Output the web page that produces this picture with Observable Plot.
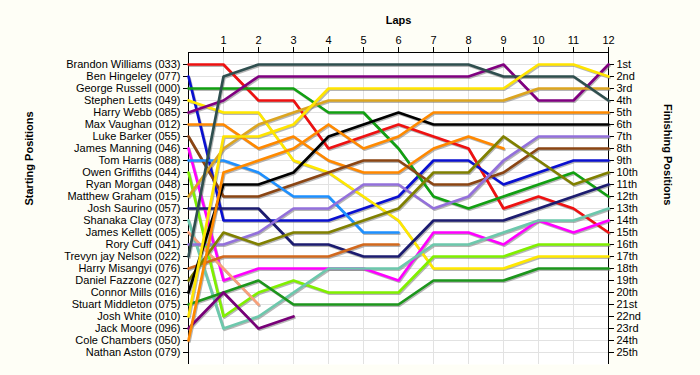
<!DOCTYPE html>
<html><head><meta charset="utf-8">
<script src="https://cdn.jsdelivr.net/npm/d3@7"></script>
<script src="https://cdn.jsdelivr.net/npm/@observablehq/plot@0.6"></script>
<style>
html,body{margin:0;padding:0;background:#fefef6;}
#chart svg{display:block;}
</style>
</head><body><div id="chart"></div>
<script>
// ---- data ----
const lapTicks = [1,2,3,4,5,6,7,8,9,10,11,12];
const startNames = [
  "Brandon Williams (033)","Ben Hingeley (077)","George Russell (000)","Stephen Letts (049)",
  "Harry Webb (085)","Max Vaughan (012)","Luke Barker (055)","James Manning (046)",
  "Tom Harris (088)","Owen Griffiths (044)","Ryan Morgan (048)","Matthew Graham (015)",
  "Josh Saurino (057)","Shanaka Clay (073)","James Kellett (005)","Rory Cuff (041)",
  "Trevyn jay Nelson (022)","Harry Misangyi (076)","Daniel Fazzone (027)","Connor Mills (016)",
  "Stuart Middleton (075)","Josh White (010)","Jack Moore (096)","Cole Chambers (050)",
  "Nathan Aston (079)"
];
const finishLabels = ["1st","2nd","3rd","4th","5th","6th","7th","8th","9th","10th","11th","12th",
  "13th","14th","15th","16th","17th","18th","19th","20th","21st","22nd","23rd","24th","25th"];

// position per lap (index = lap 0..12)
const brandonWilliams = [1,1,4,4,8,7,6,7,8,13,12,13,15];
const benHingeley     = [2,14,14,14,14,13,12,9,9,11,10,9,9];
const georgeRussell   = [3,3,3,3,5,5,8,12,13,12,11,10,12];
const stephenLetts    = [4,5,5,9,10,12,14,18,18,18,17,17,17];
const harryWebb       = [5,4,2,2,2,2,2,2,2,1,4,4,1];
const maxVaughan      = [6,6,8,7,9,10,10,8,7,8];
const lukeBarker      = [7,12,12,11,10,9,9,11,11,10,8,8,8];
const jamesManning    = [8,19,18,18,18,18,19,15,15,16,14,15,14];
const tomHarris       = [9,9,10,12,12,15,15];
const owenGriffiths   = [10,22,20,19,20,20,20,17,17,17,16,16,16];
const matthewGraham   = [12,8,6,5,4,4,4,4,4,4,3,3,3];
const joshSaurino     = [13,13,13,16,16,17,17,14,14,14,13,12,11];
const shanakaClay     = [14,23,22,20,18,18,18,16,16,15,14,14,13];
const jamesKellett    = [15,18,21];
const roryCuff        = [16,16,15,13,13,11,11,13,12,9,7,7,7];
const trevynJayNelson = [17,2,1,1,1,1,1,1,1,2,2,2,4];
const harryMisangyi   = [18,17,17,17,17,16,16];
const danielFazzone   = [19,15,16,15,15,14,13,10,10,7,9,11,10];
const connorMills     = [20,11,11,10,7,6,5,6,6,6,6,6,6];
const stuartMiddleton = [21,20,19,21,21,21,21,19,19,19,18,18,18];
const joshWhite       = [22,7,7,6,3,3,3,3,3,3,1,1,2];
const jackMoore       = [23,20,23,22];
const coleChambers    = [24,10,9,8,6,8,7,5,5,5,5,5,5];

const driverNames = ["Brandon Williams (033)","Ben Hingeley (077)","George Russell (000)","Stephen Letts (049)",
  "Harry Webb (085)","Max Vaughan (012)","Luke Barker (055)","James Manning (046)","Tom Harris (088)",
  "Owen Griffiths (044)","Matthew Graham (015)","Josh Saurino (057)","Shanaka Clay (073)","James Kellett (005)",
  "Rory Cuff (041)","Trevyn jay Nelson (022)","Harry Misangyi (076)","Daniel Fazzone (027)","Connor Mills (016)",
  "Stuart Middleton (075)","Josh White (010)","Jack Moore (096)","Cole Chambers (050)"];
const driverPositions = [brandonWilliams,benHingeley,georgeRussell,stephenLetts,harryWebb,maxVaughan,
  lukeBarker,jamesManning,tomHarris,owenGriffiths,matthewGraham,joshSaurino,shanakaClay,jamesKellett,
  roryCuff,trevynJayNelson,harryMisangyi,danielFazzone,connorMills,stuartMiddleton,joshWhite,jackMoore,coleChambers];
const driverColors = ["#ee1111","#0a10d0","#12a012","#ffe800","#800080","#ff8800","#8b4513","#ff00ff",
  "#1e90ff","#80f000","#dca520","#1c1c70","#6cc8ac","#f8a07a","#9370db","#2f4f4f","#d2691e",
  "#808000","#000000","#1c961c","#ffe400","#780078","#ff8a00"];

// ---- build table ----
const rows = driverNames.flatMap((name, i) =>
  driverPositions[i].map((pos, lap) => ({name, lap, pos, color: driverColors[i]})));

const chart = Plot.plot({
  width: 700,
  height: 375,
  marginLeft: 188,
  marginRight: 92,
  marginTop: 52,
  marginBottom: 11,
  style: {background: "#fefef6", fontFamily: "'Liberation Sans', Arial, sans-serif", fontSize: "11px", color: "#000"},
  x: {domain: [0, 12]},
  y: {domain: [0, 26], reverse: true},
  color: {type: "identity"},
  marks: [
    Plot.frame({fill: "white", stroke: "none"}),
    Plot.ruleX(d3.range(1, 12), {stroke: "#e2e2e2"}),
    Plot.ruleY(d3.range(1, 26), {stroke: "#e2e2e2"}),
    Plot.axisX({anchor: "top", ticks: lapTicks, tickFormat: d => String(d), tickSize: 6, tickPadding: 3, label: null, fontSize: 11}),
    Plot.axisY({anchor: "left", ticks: d3.range(1, 26), tickFormat: d => startNames[d - 1], tickSize: 5, tickPadding: 3, label: null}),
    Plot.axisY({anchor: "right", ticks: d3.range(1, 26), tickFormat: d => finishLabels[d - 1], tickSize: 5, tickPadding: 3, label: null}),
    Plot.ruleY([0], {stroke: "black"}),
    Plot.ruleX([0], {stroke: "black"}),
    Plot.ruleX([12], {stroke: "black"}),
    Plot.line(rows, {x: "lap", y: "pos", z: "name", stroke: "#7a7a7a", strokeOpacity: 0.55, strokeWidth: 2.6, dx: 1, dy: 1.3, strokeLinejoin: "round"}),
    Plot.line(rows, {x: "lap", y: "pos", z: "name", stroke: "color", strokeWidth: 2.7, strokeLinejoin: "round"}),
    Plot.text(["Laps"], {frameAnchor: "top", dy: -36, fontWeight: "bold", fontSize: 11}),
    Plot.text(["Starting Positions"], {frameAnchor: "left", dx: -159, dy: -3, rotate: -90, fontWeight: "bold", fontSize: 11}),
    Plot.text(["Finishing Positions"], {frameAnchor: "right", dx: 59, dy: -3, rotate: 90, fontWeight: "bold", fontSize: 11})
  ]
});
document.getElementById("chart").appendChild(chart);
</script>
</body></html>
